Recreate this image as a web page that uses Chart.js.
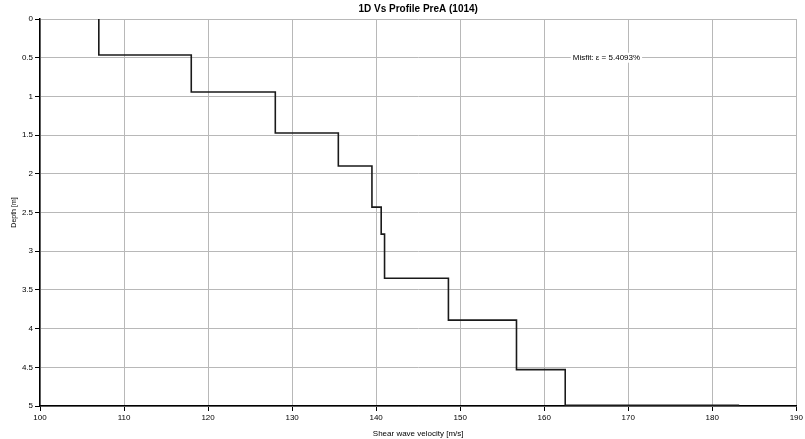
<!DOCTYPE html>
<html>
<head>
<meta charset="utf-8">
<script src="https://cdn.jsdelivr.net/npm/chart.js@4"></script>
<style>
  html, body { margin: 0; padding: 0; background: #fff; }
  #wrap { width: 805px; height: 439px; }
</style>
</head>
<body>
<div id="wrap"><canvas id="vs"></canvas></div>
<script>
// layer velocities (m/s) and layer boundary depths (m)
var layerVs = [107, 118, 128, 135.5, 139.5, 140.6, 141, 148.6, 156.7, 162.5];
var layerDepths = [0, 0.465, 0.943, 1.473, 1.9, 2.43, 2.78, 3.35, 3.89, 4.53, 4.99];
var halfSpaceVs = 183.2;
var xTicks = [100, 110, 120, 130, 140, 150, 160, 170, 180, 190];
var yTicks = [0, 0.5, 1, 1.5, 2, 2.5, 3, 3.5, 4, 4.5, 5];
var chartTitle = "1D Vs Profile PreA (1014)";
var misfitText = "Misfit: \u03b5 = 5.4093%";

var pts = [];
for (var i = 0; i < layerVs.length; i++) {
    pts.push({x: layerVs[i], y: layerDepths[i]});
    pts.push({x: layerVs[i], y: layerDepths[i + 1]});
}
pts.push({x: halfSpaceVs, y: layerDepths[layerDepths.length - 1]});

var extras = {
    id: 'extras',
    afterDraw: function(chart) {
        var c = chart.ctx, a = chart.chartArea;
        c.save();
        c.fillStyle = '#000';
        c.font = 'bold 10px "Liberation Sans", Arial, sans-serif';
        c.textAlign = 'center';
        c.textBaseline = 'middle';
        c.fillText(chartTitle, (a.left + a.right) / 2, 9);

        var px = chart.scales.x.getPixelForValue(167.4);
        var py = chart.scales.y.getPixelForValue(0.5);
        c.font = '8px "Liberation Sans", Arial, sans-serif';
        var w = c.measureText(misfitText).width;
        c.fillStyle = '#fff';
        c.fillRect(px - w / 2 - 2, py - 5, w + 4, 10);
        c.fillStyle = '#000';
        c.fillText(misfitText, px, py);
        c.restore();
    }
};

var ctx = document.getElementById("vs").getContext('2d');
new Chart(ctx, {
    type: 'scatter',
    data: {
        datasets: [{
            data: pts,
            showLine: true,
            borderColor: '#1a1a1a',
            borderWidth: 1.6,
            pointRadius: 0,
            fill: false,
            clip: 4
        }]
    },
    options: {
        responsive: true,
        maintainAspectRatio: false,
        animation: false,
        layout: { padding: { top: 19, right: 5, left: 10, bottom: 0 } },
        plugins: { legend: { display: false }, tooltip: { enabled: false } },
        scales: {
            x: {
                type: 'linear',
                min: 100, max: 190,
                afterBuildTicks: function(s) { s.ticks = xTicks.map(function(v) { return {value: v}; }); },
                afterFit: function(s) { s.height = 33; },
                grid: { color: '#b8b8b8', lineWidth: 1, tickColor: '#000', tickLength: 5 },
                border: { color: '#000', width: 1.5 },
                ticks: { color: '#000', font: { size: 8, family: 'Liberation Sans' }, padding: 2, maxRotation: 0,
                    callback: function(v) { return String(v); } },
                title: { display: true, text: 'Shear wave velocity [m/s]', color: '#000', font: { size: 8, family: 'Liberation Sans' }, padding: 0 }
            },
            y: {
                type: 'linear',
                reverse: true,
                min: 0, max: 5,
                afterBuildTicks: function(s) { s.ticks = yTicks.map(function(v) { return {value: v}; }); },
                afterFit: function(s) { s.width = 30; },
                grid: { color: '#b8b8b8', lineWidth: 1, tickColor: '#000', tickLength: 5 },
                border: { color: '#000', width: 1.5 },
                ticks: { color: '#000', font: { size: 8, family: 'Liberation Sans' }, padding: 2,
                    callback: function(v) { return String(v); } },
                title: { display: true, text: 'Depth [m]', color: '#000', font: { size: 7, family: 'Liberation Sans' }, padding: 0 }
            }
        }
    },
    plugins: [extras]
});
</script>
</body>
</html>
